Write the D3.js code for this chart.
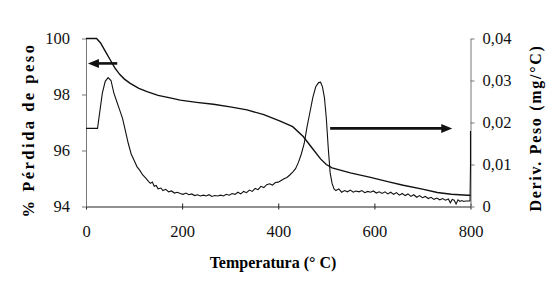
<!DOCTYPE html>
<html><head><meta charset="utf-8">
<script src="https://cdn.jsdelivr.net/npm/d3@7"></script>
<style>body{margin:0;background:#fff}svg{display:block}</style>
</head><body><svg id="c" width="560" height="284"></svg>
<script>
const tempTicks = [0,200,400,600,800];
const weightTicks = [94,96,98,100];
const derivTicks = [0,0.01,0.02,0.03,0.04];
const derivTickLabels = ["0","0,01","0,02","0,03","0,04"];

const weightT = [0,22,30,40,50,60,70,80,92,110,127,150,175,196,230,265,300,335,370,404,430,452,470,488,500,512,550,592,630,660,700,731,760,794,800];
const weightV = [100,100,99.85,99.55,99.25,98.95,98.72,98.55,98.4,98.22,98.1,97.97,97.88,97.8,97.72,97.65,97.56,97.45,97.28,97.05,96.85,96.5,96.1,95.7,95.5,95.38,95.2,95.04,94.88,94.76,94.62,94.5,94.44,94.4,94.4];

const derivT = [0,20,24,28,34,40,46,52,58,64,70,76,82,88,94,100,106,112,118,124,130,134,138,142,146,150,156,160,166,172,178,184,190,196,202,208,214,220,226,232,238,244,250,256,262,268,274,280,286,292,298,304,310,316,322,328,334,340,346,352,358,364,370,376,382,388,394,400,406,412,418,424,430,436,442,448,454,460,466,472,478,484,488,492,496,500,504,508,512,516,520,526,532,538,544,550,556,562,568,574,580,586,592,598,604,610,616,622,628,634,640,646,652,658,664,670,676,682,688,694,700,706,712,718,724,730,736,742,748,754,758,762,766,770,774,778,782,786,790,796,799,800,800];
const derivV = [0.0186,0.0186,0.0186,0.022,0.027,0.0298,0.0307,0.030,0.027,0.025,0.023,0.021,0.018,0.015,0.0125,0.011,0.0095,0.0086,0.0075,0.0068,0.006,0.0055,0.0058,0.0048,0.005,0.0042,0.0044,0.0038,0.0041,0.0035,0.0037,0.0032,0.0034,0.0031,0.0029,0.0032,0.0028,0.003,0.0026,0.0028,0.0025,0.0027,0.0025,0.0028,0.0024,0.0026,0.0025,0.0027,0.0025,0.0029,0.0027,0.0031,0.0029,0.0034,0.003,0.0036,0.0033,0.0039,0.0036,0.0043,0.004,0.0048,0.0045,0.0052,0.0054,0.0051,0.0057,0.0058,0.0062,0.0066,0.0069,0.0075,0.0082,0.009,0.0105,0.0125,0.015,0.019,0.0225,0.026,0.0285,0.0295,0.0296,0.0285,0.026,0.021,0.014,0.008,0.0055,0.0042,0.0038,0.0042,0.0034,0.0038,0.0035,0.0039,0.0034,0.0037,0.0035,0.0038,0.0033,0.0036,0.0034,0.0037,0.0032,0.0035,0.0031,0.0035,0.003,0.0034,0.0029,0.0033,0.0027,0.0031,0.0026,0.003,0.0024,0.0028,0.0022,0.0026,0.0021,0.0024,0.0019,0.0022,0.0017,0.002,0.0016,0.0019,0.0015,0.0018,0.0009,0.0017,0.0015,0.0006,0.0016,0.0012,0.0014,0.0012,0.0013,0.0013,0.0013,0.01,0.018];

// annotation arrows in data units
const leftArrow = {t0:65, t1:4, w:99.11};
const rightArrow = {t0:508, t1:762, d:0.0186};

const svg = d3.select("#c");
const x = d3.scaleLinear().domain([0,800]).range([86,470.5]);
const yL = d3.scaleLinear().domain([94,100]).range([206.5,38.5]);
const yR = d3.scaleLinear().domain([0,0.04]).range([206.5,38.5]);
const font = "'Liberation Serif','Times New Roman',serif";

// x axis
const gx = svg.append("g").attr("transform","translate(0,206.5)")
  .call(d3.axisBottom(x).tickValues(tempTicks).tickFormat(d3.format("d")).tickSizeInner(3).tickSizeOuter(0).tickPadding(16));
gx.select(".domain").attr("stroke","#222");
gx.selectAll(".tick line").attr("y1",-3).attr("y2",3).attr("stroke","#222");
gx.selectAll("text").attr("font-family",font).attr("font-size",16.5).attr("fill","#111");

const gl = svg.append("g").attr("transform","translate(86,0)")
  .call(d3.axisLeft(yL).tickValues(weightTicks).tickFormat(d3.format("d")).tickSizeInner(4).tickSizeOuter(0).tickPadding(12));
gl.select(".domain").attr("stroke","#777");
gl.selectAll(".tick line").attr("stroke","#777");
gl.selectAll("text").attr("font-family",font).attr("font-size",16.5).attr("fill","#111");

const gr = svg.append("g").attr("transform","translate(470.5,0)")
  .call(d3.axisRight(yR).tickValues(derivTicks).tickFormat((d,i)=>derivTickLabels[i]).tickSizeInner(4).tickSizeOuter(0).tickPadding(8));
gr.select(".domain").attr("stroke","#777");
gr.selectAll(".tick line").attr("stroke","#777");
gr.selectAll("text").attr("font-family",font).attr("font-size",16.5).attr("fill","#111");

// lines
const lineW = d3.line().x((d,i)=>x(weightT[i])).y(d=>yL(d));
svg.append("path").attr("d",lineW(weightV)).attr("fill","none").attr("stroke","#111").attr("stroke-width",1.4);
const lineD = d3.line().x((d,i)=>x(derivT[i])).y(d=>yR(d));
svg.append("path").attr("d",lineD(derivV)).attr("fill","none").attr("stroke","#111").attr("stroke-width",1.1);

// arrows
function arrow(xa,xb,yy){
  const dir = Math.sign(xb-xa);
  svg.append("line").attr("x1",xa).attr("x2",xb-dir*8).attr("y1",yy).attr("y2",yy)
    .attr("stroke","#111").attr("stroke-width",2.6);
  svg.append("path").attr("d",`M${xb},${yy} L${xb-dir*11},${yy-4.5} L${xb-dir*11},${yy+4.5}Z`).attr("fill","#111");
}
arrow(x(leftArrow.t0),x(leftArrow.t1),yL(leftArrow.w));
arrow(x(rightArrow.t0),x(rightArrow.t1),yR(rightArrow.d));

// titles
svg.append("text").attr("x",273).attr("y",268).attr("text-anchor","middle")
  .attr("font-family",font).attr("font-weight","bold").attr("font-size",16).text("Temperatura (° C)");
svg.append("text").attr("transform","translate(34,130) rotate(-90)").attr("text-anchor","middle")
  .attr("font-family",font).attr("font-weight","bold").attr("font-size",16.5).attr("letter-spacing",2.5).text("% Pérdida de peso");
svg.append("text").attr("transform","translate(541,128) rotate(-90)").attr("text-anchor","middle")
  .attr("font-family",font).attr("font-weight","bold").attr("font-size",16).attr("letter-spacing",1.7).text("Deriv. Peso (mg/°C)");
</script></body></html>
